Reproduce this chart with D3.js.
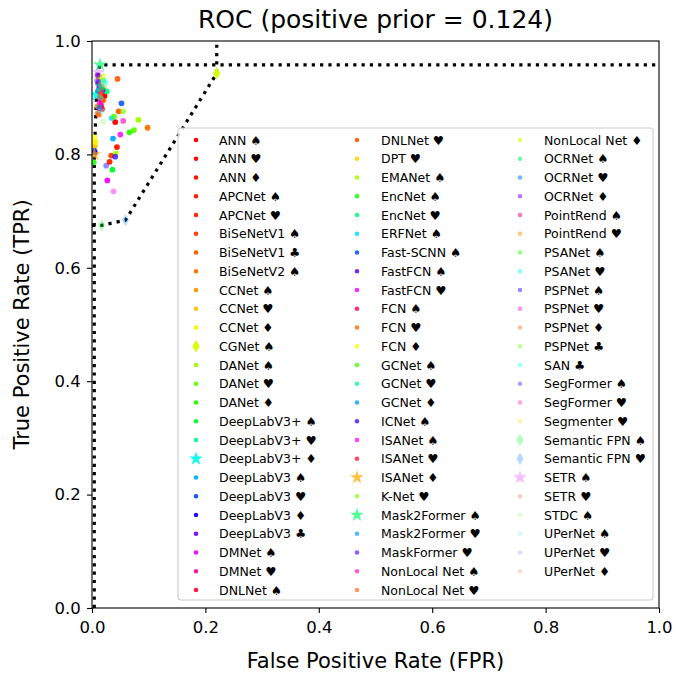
<!DOCTYPE html>
<html>
<head>
<meta charset="utf-8">
<script src="https://cdn.jsdelivr.net/npm/d3@7"></script>
<style>
  body { margin: 0; background: #fff; }
  text { font-family: "DejaVu Sans", sans-serif; }
</style>
</head>
<body>
<svg id="chart" width="678" height="675"></svg>
<script>
// Model / configuration labels, in legend order
const labels = [
  "ANN ♠", "ANN ♥", "ANN ♦", "APCNet ♠", "APCNet ♥", "BiSeNetV1 ♠", "BiSeNetV1 ♣", "BiSeNetV2 ♠",
  "CCNet ♠", "CCNet ♥", "CCNet ♦", "CGNet ♠", "DANet ♠", "DANet ♥", "DANet ♦",
  "DeepLabV3+ ♠", "DeepLabV3+ ♥", "DeepLabV3+ ♦", "DeepLabV3 ♠", "DeepLabV3 ♥", "DeepLabV3 ♦", "DeepLabV3 ♣",
  "DMNet ♠", "DMNet ♥", "DNLNet ♠",
  "DNLNet ♥", "DPT ♥", "EMANet ♠", "EncNet ♠", "EncNet ♥", "ERFNet ♠", "Fast-SCNN ♠", "FastFCN ♠", "FastFCN ♥",
  "FCN ♠", "FCN ♥", "FCN ♦", "GCNet ♠", "GCNet ♥", "GCNet ♦", "ICNet ♠", "ISANet ♠", "ISANet ♥", "ISANet ♦",
  "K-Net ♥", "Mask2Former ♠", "Mask2Former ♥", "MaskFormer ♥", "NonLocal Net ♠", "NonLocal Net ♥",
  "NonLocal Net ♦", "OCRNet ♠", "OCRNet ♥", "OCRNet ♦", "PointRend ♠", "PointRend ♥", "PSANet ♠", "PSANet ♥",
  "PSPNet ♠", "PSPNet ♥", "PSPNet ♦", "PSPNet ♣", "SAN ♣", "SegFormer ♠", "SegFormer ♥", "Segmenter ♥",
  "Semantic FPN ♠", "Semantic FPN ♥", "SETR ♠", "SETR ♥", "STDC ♠", "UPerNet ♠", "UPerNet ♥", "UPerNet ♦"
];

// False positive rate per model
const fpr = [
  0.022, 0.041, 0.019, 0.044, 0.031, 0.034, 0.047, 0.098,
  0.010, 0.005, 0.006, 0.220, 0.082, 0.074, 0.066,
  0.036, 0.026, 0.008, 0.037, 0.004, 0.005, 0.013,
  0.027, 0.013, 0.016,
  0.045, 0.012, 0.042, 0.003, 0.012, 0.035, 0.052, 0.019, 0.050,
  0.016, 0.012, 0.004, 0.039, 0.015, 0.011, 0.041, 0.014, 0.018, 0.004,
  0.055, 0.014, 0.013, 0.010, 0.055, 0.010,
  0.019, 0.020, 0.017, 0.011, 0.016, 0.021, 0.015, 0.023,
  0.025, 0.038, 0.014, 0.022, 0.015, 0.009, 0.013, 0.016,
  0.017, 0.059, 0.011, 0.018, 0.020, 0.012, 0.010, 0.014
];

// True positive rate per model
const tpr = [
  0.903, 0.857, 0.896, 0.813, 0.787, 0.798, 0.876, 0.847,
  0.885, 0.815, 0.822, 0.943, 0.861, 0.843, 0.839,
  0.773, 0.911, 0.905, 0.828, 0.806, 0.803, 0.919,
  0.754, 0.881, 0.885,
  0.933, 0.935, 0.802, 0.786, 0.925, 0.864, 0.890, 0.914, 0.835,
  0.893, 0.870, 0.830, 0.867, 0.900, 0.912, 0.796, 0.891, 0.880, 0.800,
  0.876, 0.958, 0.883, 0.940, 0.859, 0.873,
  0.938, 0.930, 0.920, 0.928, 0.908, 0.895, 0.915, 0.927,
  0.780, 0.735, 0.905, 0.918, 0.876, 0.930, 0.898, 0.924,
  0.675, 0.684, 0.945, 0.910, 0.858, 0.915, 0.925, 0.912
];

// Marker kind: "best" = upper front (star), "worst" = lower front (diamond)
const kinds = labels.map(() => "dot");
["DeepLabV3+ ♦", "ISANet ♦", "Mask2Former ♠", "SETR ♠"].forEach(l => kinds[labels.indexOf(l)] = "best");
["CGNet ♠", "Semantic FPN ♠", "Semantic FPN ♥"].forEach(l => kinds[labels.indexOf(l)] = "worst");

// Marker hues (degrees)
const hues = [
  0, 2, 4, 6, 10, 15, 22, 28, 36, 46, 57, 70, 82, 96, 110, 130, 152, 176, 200, 222, 245, 268, 295, 322, 350,
  20, 50, 80, 115, 150, 188, 222, 260, 298, 340, 25, 62, 105, 155, 205, 250, 300, 352, 40, 90, 145, 205, 262, 315, 20,
  70, 140, 210, 275, 335, 35, 110, 180, 245, 305, 25, 100, 180, 250, 330, 50, 130, 210, 295, 10, 100, 185, 270, 355
];

const tickValues = [0, 0.2, 0.4, 0.6, 0.8, 1.0];

const svg = d3.select("#chart");
const m = { left: 92, right: 659, top: 41, bottom: 608 };

const x = d3.scaleLinear().domain([0, 1]).range([m.left, m.right]);
const y = d3.scaleLinear().domain([0, 1]).range([m.bottom, m.top]);

const n = labels.length;
const alpha = i => 1 - 0.85 * Math.pow(i / (n - 1), 2);
const color = i => d3.hsl(hues[i], 1, 0.5).formatHex();

// Title and axis labels
svg.append("text").attr("x", (m.left + m.right) / 2).attr("y", 28)
  .attr("text-anchor", "middle").attr("font-size", 25).text("ROC (positive prior = 0.124)");
svg.append("text").attr("x", (m.left + m.right) / 2).attr("y", 668)
  .attr("text-anchor", "middle").attr("font-size", 21).text("False Positive Rate (FPR)");
svg.append("text").attr("transform", `translate(29,${(m.top + m.bottom) / 2}) rotate(-90)`)
  .attr("text-anchor", "middle").attr("font-size", 21).text("True Positive Rate (TPR)");

// Axes
const fmt = d3.format(".1f");
const gx = svg.append("g").attr("transform", `translate(0,${m.bottom})`)
  .call(d3.axisBottom(x).tickValues(tickValues).tickFormat(fmt).tickSize(5).tickSizeOuter(0));
const gy = svg.append("g").attr("transform", `translate(${m.left},0)`)
  .call(d3.axisLeft(y).tickValues(tickValues).tickFormat(fmt).tickSize(5).tickSizeOuter(0));
[gx, gy].forEach(g => {
  g.select(".domain").remove();
  g.selectAll("line").attr("stroke", "#000").attr("stroke-width", 1.1);
  g.selectAll("text").attr("font-size", 16.5).attr("fill", "#000")
    .style("font-family", '"DejaVu Sans", sans-serif');
});
gx.selectAll("text").attr("dy", "1.0em");
gy.selectAll("text").attr("dx", "-0.2em");

// Plot area
const defs = svg.append("defs");
defs.append("clipPath").attr("id", "plotClip").append("rect")
  .attr("x", m.left).attr("y", m.top).attr("width", m.right - m.left).attr("height", m.bottom - m.top);
const plot = svg.append("g").attr("clip-path", "url(#plotClip)");

// Front lines through the marked models, extended to the plot edges
const idx = d3.range(n);
const best = idx.filter(i => kinds[i] === "best").sort((a, b) => fpr[a] - fpr[b]);
const worst = idx.filter(i => kinds[i] === "worst").sort((a, b) => fpr[a] - fpr[b]);
const bestPath = [[fpr[best[0]], 0], ...best.map(i => [fpr[i], tpr[i]]), [1, tpr[best[best.length - 1]]]];
const worstPath = [[0, tpr[worst[0]]], ...worst.map(i => [fpr[i], tpr[i]]), [fpr[worst[worst.length - 1]], 1]];
const line = d3.line().x(d => x(d[0])).y(d => y(d[1]));
[bestPath, worstPath].forEach(p => {
  plot.append("path").attr("d", line(p)).attr("fill", "none").attr("stroke", "#000")
    .attr("stroke-width", 3.2).attr("stroke-dasharray", "3.2,5.1");
});

// Marker shapes
function diamondPath(w, h) {
  return `M0,${-h}L${w},0L0,${h}L${-w},0Z`;
}
function markerPath(kind, scale) {
  if (kind === "worst") return diamondPath(3.6 * scale, 6.2 * scale);
  if (kind === "best") return d3.symbol(d3.symbolStar, 60 * scale * scale)();
  return d3.symbol(d3.symbolCircle, 26 * scale * scale)();
}

plot.selectAll("path.pt").data(idx).join("path").attr("class", "pt")
  .attr("transform", i => `translate(${x(fpr[i])},${y(tpr[i])})`)
  .attr("d", i => markerPath(kinds[i], 1))
  .attr("fill", color).attr("fill-opacity", alpha);

// Spines
svg.append("rect").attr("x", m.left).attr("y", m.top)
  .attr("width", m.right - m.left).attr("height", m.bottom - m.top)
  .attr("fill", "none").attr("stroke", "#000").attr("stroke-width", 1.1);

// Legend in three columns
const perCol = Math.ceil(n / 3);
const lg = svg.append("g");
lg.append("rect").attr("x", 178).attr("y", 128).attr("width", 475).attr("height", 472)
  .attr("rx", 3).attr("fill", "#fff").attr("fill-opacity", 0.8)
  .attr("stroke", "#cccccc").attr("stroke-width", 1.1);
const colMarkX = [196, 357, 520];
const colTextX = [219, 381, 544];
const rowY = r => 140 + r * 18.75;
const items = lg.selectAll("g.item").data(idx).join("g").attr("class", "item");
items.append("path")
  .attr("transform", i => `translate(${colMarkX[Math.floor(i / perCol)]},${rowY(i % perCol)})`)
  .attr("d", i => markerPath(kinds[i], kinds[i] === "dot" ? 0.8 : 1))
  .attr("fill", color).attr("fill-opacity", alpha);
items.append("text")
  .attr("x", i => colTextX[Math.floor(i / perCol)])
  .attr("y", i => rowY(i % perCol))
  .attr("dy", "0.36em").attr("font-size", 12.5).attr("fill", "#000")
  .text(i => labels[i]);
</script>
</body>
</html>
